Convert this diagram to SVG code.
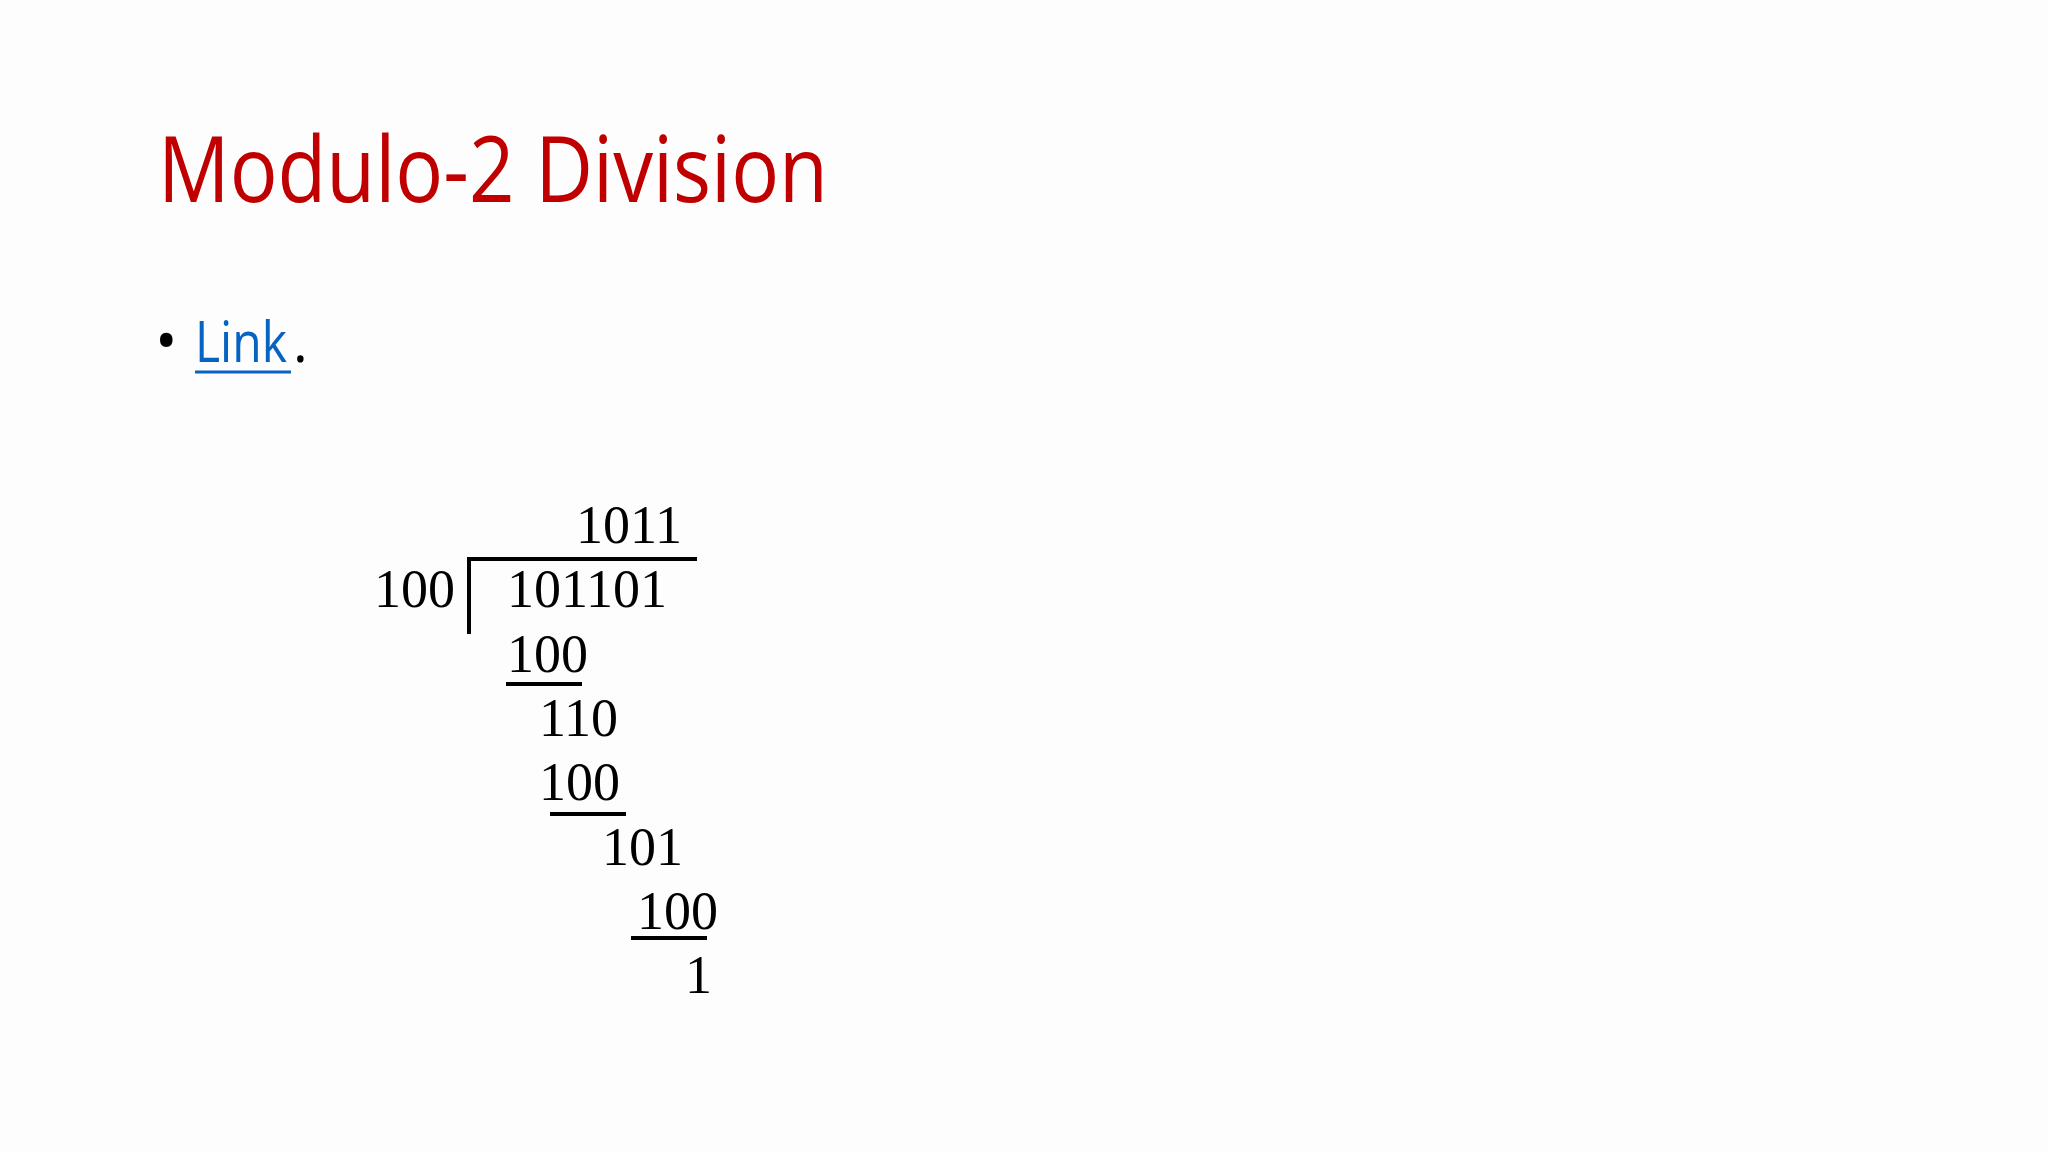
<svg xmlns="http://www.w3.org/2000/svg" width="2048" height="1152" viewBox="0 0 2048 1152">
<style>
.n{font-family:"Liberation Serif","Times New Roman",serif;font-size:54px;fill:#000}
.s{font-family:"Open Sans","Liberation Sans",sans-serif}
line{stroke:#000;stroke-width:4}
</style>
<rect width="2048" height="1152" fill="#fdfdfd"/>
<g id="title"><text class="s" x="158" y="202" font-size="92" fill="#C00000" textLength="670" lengthAdjust="spacingAndGlyphs">Modulo-2 Division</text></g>
<g id="bullet">
<text class="s" x="155" y="362" font-size="60" fill="#000">•</text>
<text class="s" x="195" y="362" font-size="56" fill="#0563C1" textLength="92" lengthAdjust="spacingAndGlyphs">Link</text>
<line x1="195" y1="372" x2="291" y2="372" style="stroke:#0563C1;stroke-width:3"/>
<text class="s" x="293" y="362" font-size="56" fill="#000">.</text>
</g>
<g id="division">
<text class="n" x="576" y="543">1011</text>
<text class="n" x="374" y="607">100</text>
<text class="n" x="507" y="607">101101</text>
<text class="n" x="507" y="672">100</text>
<text class="n" x="539" y="736">110</text>
<text class="n" x="539" y="800">100</text>
<text class="n" x="602" y="865">101</text>
<text class="n" x="637" y="929">100</text>
<text class="n" x="712" y="993" text-anchor="end">1</text>
</g>
<g id="connectors">
<polyline points="469,634 469,559 697,559" fill="none" stroke="#000" stroke-width="4"/>
<line x1="506" y1="684" x2="582" y2="684"/>
<line x1="550" y1="814" x2="626" y2="814"/>
<line x1="631" y1="938" x2="707" y2="938"/>
</g>
</svg>
